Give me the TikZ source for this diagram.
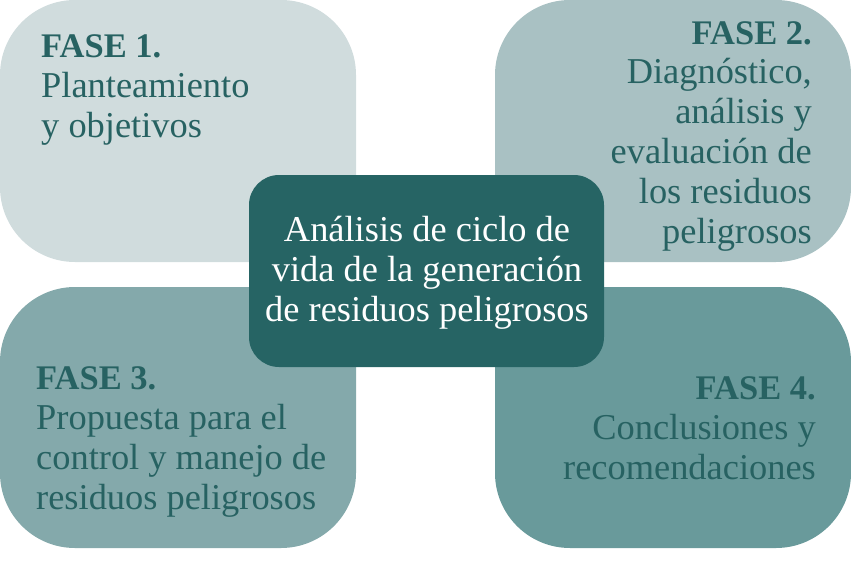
\documentclass[tikz,border=0pt]{standalone}
\usepackage{fontspec}
\setmainfont{Liberation Serif}

\definecolor{faseuno}{HTML}{D0DCDD}
\definecolor{fasedos}{HTML}{A9C1C3}
\definecolor{fasetres}{HTML}{84A9AB}
\definecolor{fasecuatro}{HTML}{699A9B}
\definecolor{centro}{HTML}{266464}
\definecolor{textoverde}{HTML}{276262}

\tikzset{
  fasetxt/.style={inner sep=0pt, text=textoverde, font=\fontsize{36.4}{39.8}\selectfont},
  centrotxt/.style={inner sep=0pt, text=white, align=center, font=\fontsize{36.4}{39.8}\selectfont}
}
\newcommand{\fasetit}[1]{{\fontsize{34.5}{39.8}\selectfont\bfseries #1}}

\begin{document}
\begin{tikzpicture}[x=1pt, y=-1pt]
        \useasboundingbox (0,0) rectangle (851,586);

        % las cuatro fases
        \fill[faseuno, rounded corners=75pt] (0,0) rectangle (356,262);
        \fill[fasedos, rounded corners=75pt] (495,0) rectangle (851,262);
        \fill[fasetres, rounded corners=75pt] (0,287) rectangle (356,548);
        \fill[fasecuatro, rounded corners=75pt] (495,287) rectangle (851,548);

        % base = ultima linea de cada texto
        \node[fasetxt, align=left, anchor=base west] (f1) at (41,137.5)
            {\fasetit{FASE 1.}\\Planteamiento\\y objetivos};
        \node[fasetxt, align=right, anchor=base east] (f2) at (812,243)
            {\fasetit{FASE 2.}\\Diagnóstico,\\análisis y\\evaluación de\\los residuos\\peligrosos};
        \node[fasetxt, align=left, anchor=base west] (f3) at (36,509)
            {\fasetit{FASE 3.}\\Propuesta para el\\control y manejo de\\residuos peligrosos};
        \node[fasetxt, align=right, anchor=base east] (f4) at (816,479)
            {\fasetit{FASE 4.}\\Conclusiones y\\recomendaciones};

        % centro
        \fill[centro, rounded corners=30pt] (249,175) rectangle (604,367);
        \node[centrotxt, anchor=base] (acv) at (427,321)
            {Análisis de ciclo de\\vida de la generación\\de residuos peligrosos};
    \end{tikzpicture}
\end{document}
